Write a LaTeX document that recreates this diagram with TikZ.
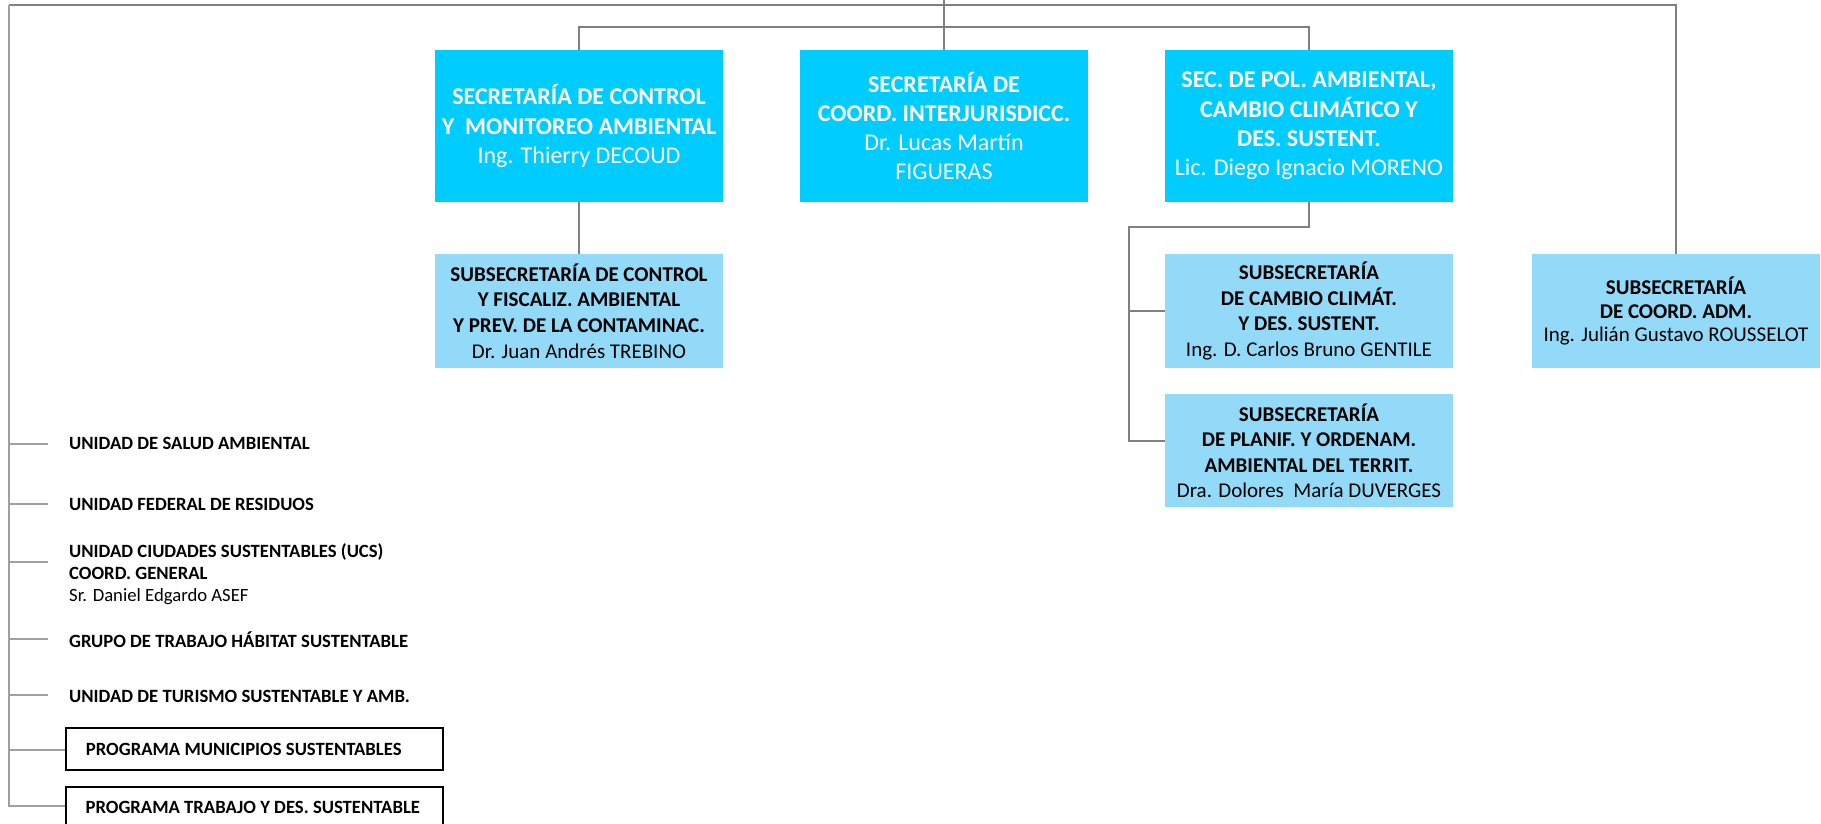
\documentclass[tikz,border=0pt]{standalone}
\usepackage{fontspec}
\setmainfont{Carlito}
\definecolor{mainblue}{RGB}{0,204,255}
\definecolor{subblue}{RGB}{146,218,247}
\definecolor{lineg}{RGB}{128,128,128}
\definecolor{lineg2}{RGB}{160,160,160}
\begin{document}
\begin{tikzpicture}[x=1pt,y=-1pt,
  mainbox/.style={fill=mainblue, text=white, minimum width=288pt, minimum height=152pt, inner sep=0pt, align=center, font=\fontsize{24}{29.3}\selectfont},
  subbox/.style={fill=subblue, text=black, minimum width=288pt, minimum height=114pt, inner sep=0pt, align=center, font=\fontsize{21}{25.6}\selectfont},
  conn/.style={draw=lineg, line width=2pt},
  conn2/.style={draw=lineg2, line width=2pt},
  unitlabel/.style={anchor=base west, inner sep=0pt, align=left, font=\fontsize{18.7}{21.8}\selectfont\bfseries},
  progbox/.style={draw=black, line width=1.8pt, anchor=north west, minimum height=42pt, inner xsep=20pt, inner ysep=0pt, font=\fontsize{18.7}{21.8}\selectfont\bfseries}
]
\useasboundingbox (0,0) rectangle (1821,824);

% main secretariats
\node[mainbox] (sec1) at (579,126) {\textbf{SECRETARÍA DE CONTROL}\\\textbf{Y~ MONITOREO AMBIENTAL}\\Ing. Thierry DECOUD};
\node[mainbox] (sec2) at (944,126) {\textbf{SECRETARÍA DE}\\\textbf{COORD. INTERJURISDICC.}\\Dr. Lucas Martín\\FIGUERAS};
\node[mainbox] (sec3) at (1309,126) {\textbf{SEC. DE POL. AMBIENTAL,}\\\textbf{CAMBIO CLIMÁTICO Y}\\\textbf{DES. SUSTENT.}\\Lic. Diego Ignacio MORENO};

% subsecretariats
\node[subbox] (sub1) at (579,311) {\textbf{SUBSECRETARÍA DE CONTROL}\\\textbf{Y FISCALIZ. AMBIENTAL}\\\textbf{Y PREV. DE LA CONTAMINAC.}\\Dr. Juan Andrés TREBINO};
\node[subbox] (sub3a) at (1309,311) {\textbf{SUBSECRETARÍA}\\\textbf{DE CAMBIO CLIMÁT.}\\\textbf{Y DES. SUSTENT.}\\Ing. D. Carlos Bruno GENTILE};
\node[subbox, minimum height=113.3pt] (sub3b) at (1309,450.7) {\textbf{SUBSECRETARÍA}\\\textbf{DE PLANIF. Y ORDENAM.}\\\textbf{AMBIENTAL DEL TERRIT.}\\Dra. Dolores~ María DUVERGES};
\node[subbox, font=\fontsize{21}{23.3}\selectfont] (sub4) at (1676,311) {\textbf{SUBSECRETARÍA}\\\textbf{DE COORD. ADM.}\\Ing. Julián Gustavo ROUSSELOT};

% left units
\node[unitlabel] (salud) at (69,449.3) {UNIDAD DE SALUD AMBIENTAL};
\node[unitlabel] (fed) at (69,510.7) {UNIDAD FEDERAL DE RESIDUOS};
\node[unitlabel] (ucs) at (69,601) {UNIDAD CIUDADES SUSTENTABLES (UCS)\\COORD. GENERAL\\\mdseries Sr. Daniel Edgardo ASEF};
\node[unitlabel] (grupo) at (69,647.3) {GRUPO DE TRABAJO HÁBITAT SUSTENTABLE};
\node[unitlabel] (tur) at (69,702) {UNIDAD DE TURISMO SUSTENTABLE Y AMB.};
\node[progbox] (muni) at (65,727.3) {\makebox[337pt][l]{PROGRAMA MUNICIPIOS SUSTENTABLES}};
\node[progbox] (trab) at (64.7,786) {\makebox[337pt][l]{PROGRAMA TRABAJO Y DES. SUSTENTABLE}};

% coordinates
\coordinate (top) at (944,-5);
\coordinate (tl) at (9,5);
\coordinate (tr) at (1676,5);
\coordinate (h2) at (0,27);
\coordinate (h3) at (1129,226.7);
\coordinate (b3b) at (1129,440.7);
\coordinate (lb) at (9,806);
\coordinate (u1) at (48.3,444.3);
\coordinate (u2) at (48.3,504.3);
\coordinate (u3) at (48.3,561.7);
\coordinate (u4) at (48.3,639);
\coordinate (u5) at (48.3,695);
\coordinate (u6) at (48.3,750);

% connectors
\draw[conn] (top) -- (sec2.north);
\draw[conn] (sub4.north) -- (tr) -- (tl);
\draw[conn2] (tl) -- (lb) -- (lb -| trab.west);
\draw[conn] (sec1.north) -- (sec1.north |- h2) -- (sec3.north |- h2) -- (sec3.north);
\draw[conn] (sec1.south) -- (sub1.north);
\draw[conn] (sec3.south) -- (sec3.south |- h3) -- (h3) -- (b3b) -- (b3b -| sub3b.west);
\draw[conn] (h3 |- sub3a.west) -- (sub3a.west);
\draw[conn2] (u1 -| tl) -- (u1);
\draw[conn2] (u2 -| tl) -- (u2);
\draw[conn2] (u3 -| tl) -- (u3);
\draw[conn2] (u4 -| tl) -- (u4);
\draw[conn2] (u5 -| tl) -- (u5);
\draw[conn2] (u6 -| tl) -- (u6 -| muni.west);
\end{tikzpicture}
\end{document}
